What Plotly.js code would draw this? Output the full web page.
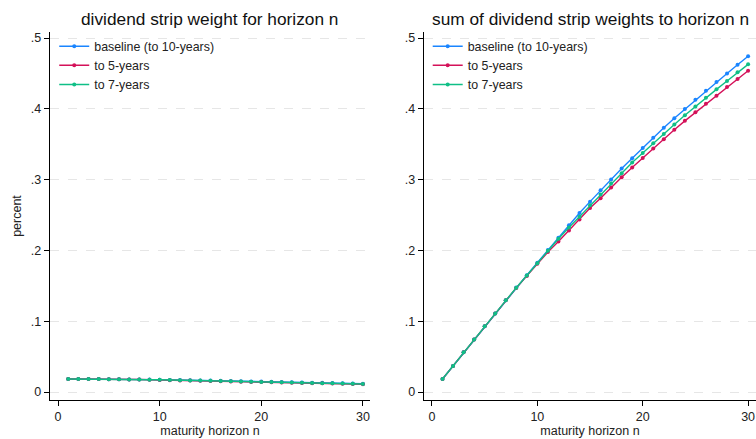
<!DOCTYPE html>
<html>
<head>
<meta charset="utf-8">
<script src="https://cdn.plot.ly/plotly-3.0.1.min.js"></script>
<style>html,body{margin:0;padding:0;background:#fff;}#chart{width:756px;height:439px;}</style>
</head>
<body>
<div id="chart"></div>
<script>
const horizon = [1,2,3,4,5,6,7,8,9,10,11,12,13,14,15,16,17,18,19,20,21,22,23,24,25,26,27,28,29,30];

const seriesNames = ["baseline (to 10-years)", "to 5-years", "to 7-years"];
const seriesColors = ["#1a85ff", "#d41159", "#0fbf86"];

// left panel: dividend strip weight for horizon n
const weightBaseline = [0.0184,0.0184,0.0183,0.0182,0.0181,0.0180,0.0178,0.0177,0.0175,0.0173,0.0171,0.0169,0.0166,0.0164,0.0161,0.0159,0.0156,0.0153,0.0150,0.0147,0.0144,0.0141,0.0138,0.0135,0.0132,0.0129,0.0126,0.0123,0.0120,0.0117];
const weight5y = [0.0184,0.0184,0.0183,0.0182,0.0181,0.0180,0.0178,0.0176,0.0173,0.0170,0.0167,0.0164,0.0161,0.0158,0.0155,0.0152,0.0149,0.0146,0.0143,0.0140,0.0137,0.0134,0.0131,0.0128,0.0125,0.0122,0.0119,0.0116,0.0113,0.0110];
const weight7y = [0.0184,0.0184,0.0183,0.0182,0.0181,0.0180,0.0178,0.0177,0.0174,0.0172,0.0169,0.0167,0.0164,0.0161,0.0158,0.0155,0.0152,0.0149,0.0146,0.0143,0.0140,0.0137,0.0134,0.0131,0.0128,0.0125,0.0122,0.0119,0.0116,0.0113];

// right panel: sum of dividend strip weights to horizon n
const sumBaseline = [0.0184,0.0368,0.0560,0.0740,0.0929,0.1108,0.1297,0.1476,0.1650,0.1826,0.2004,0.2180,0.2355,0.2528,0.2689,0.2849,0.3001,0.3156,0.3302,0.3448,0.3590,0.3731,0.3868,0.3996,0.4127,0.4255,0.4378,0.4500,0.4623,0.4742];
const sum5y = [0.0184,0.0368,0.0560,0.0740,0.0929,0.1108,0.1295,0.1470,0.1640,0.1812,0.1976,0.2127,0.2282,0.2437,0.2599,0.2736,0.2887,0.3033,0.3170,0.3306,0.3440,0.3571,0.3703,0.3830,0.3950,0.4070,0.4184,0.4307,0.4420,0.4538];
const sum7y = [0.0184,0.0368,0.0560,0.0740,0.0929,0.1108,0.1296,0.1473,0.1645,0.1820,0.1995,0.2165,0.2325,0.2477,0.2637,0.2788,0.2944,0.3090,0.3241,0.3377,0.3514,0.3646,0.3779,0.3910,0.4034,0.4156,0.4275,0.4392,0.4515,0.4628];

const yTickVals = [0, 0.1, 0.2, 0.3, 0.4, 0.5];
const yTickText = ["0", ".1", ".2", ".3", ".4", ".5"];
const xTickVals = [0, 10, 20, 30];

const leftTitle = "dividend strip weight for horizon n";
const rightTitle = "sum of dividend strip weights to horizon n";
const xTitle = "maturity horizon n";
const yTitle = "percent";

const FONT = "Liberation Sans, Arial, Helvetica, sans-serif";

const leftData = [weightBaseline, weight5y, weight7y];
const rightData = [sumBaseline, sum5y, sum7y];

const traces = [];
leftData.forEach((ys, i) => {
  traces.push({
    x: horizon, y: ys, type: "scatter", mode: "lines+markers",
    name: seriesNames[i], xaxis: "x", yaxis: "y", legend: "legend",
    line: {color: seriesColors[i], width: 1.4},
    marker: {color: seriesColors[i], size: 4}
  });
});
rightData.forEach((ys, i) => {
  traces.push({
    x: horizon, y: ys, type: "scatter", mode: "lines+markers",
    name: seriesNames[i], xaxis: "x2", yaxis: "y2", legend: "legend2",
    line: {color: seriesColors[i], width: 1.4},
    marker: {color: seriesColors[i], size: 4}
  });
});

function yAxis(extra) {
  return Object.assign({
    range: [-0.0113, 0.5085],
    tickvals: yTickVals, ticktext: yTickText,
    ticks: "outside", ticklen: 5, tickcolor: "#000", tickwidth: 1,
    showline: true, linecolor: "#000", linewidth: 1.2,
    showgrid: true, gridcolor: "#e6e6e6", griddash: "dash", gridwidth: 1,
    zeroline: false,
    tickfont: {family: FONT, size: 12.5, color: "#222"}
  }, extra);
}
function xAxis(extra) {
  return Object.assign({
    tickvals: xTickVals,
    ticks: "outside", ticklen: 5, tickcolor: "#000", tickwidth: 1,
    showline: true, linecolor: "#000", linewidth: 1.2,
    showgrid: false, zeroline: false,
    tickfont: {family: FONT, size: 12.5, color: "#222"},
    title: {text: xTitle, font: {family: FONT, size: 12.5, color: "#222"}, standoff: 1}
  }, extra);
}

const layout = {
  width: 756, height: 439,
  margin: {l: 50, r: 0, t: 32, b: 39},
  paper_bgcolor: "#fff", plot_bgcolor: "#fff",
  font: {family: FONT, color: "#222"},
  xaxis: xAxis({domain: [0, 0.4533], range: [-0.79, 30.7], anchor: "y"}),
  yaxis: yAxis({domain: [0, 1], anchor: "x",
    title: {text: yTitle, font: {family: FONT, size: 12.5, color: "#222"}, standoff: 6}}),
  xaxis2: xAxis({domain: [0.5297, 1], range: [-0.76, 30.75], anchor: "y2"}),
  yaxis2: yAxis({domain: [0, 1], anchor: "x2"}),
  legend: {x: 0.006, y: 1.001, xanchor: "left", yanchor: "top",
    bgcolor: "rgba(0,0,0,0)", font: {family: FONT, size: 12.4, color: "#222"},
    tracegroupgap: 0},
  legend2: {x: 0.535, y: 1.001, xanchor: "left", yanchor: "top",
    bgcolor: "rgba(0,0,0,0)", font: {family: FONT, size: 12.4, color: "#222"},
    tracegroupgap: 0},
  annotations: [
    {text: leftTitle, xref: "paper", yref: "paper", x: 0.2266, y: 1, yshift: 13,
     xanchor: "center", yanchor: "middle", showarrow: false,
     font: {family: FONT, size: 17.3, color: "#111"}},
    {text: rightTitle, xref: "paper", yref: "paper", x: 0.766, y: 1, yshift: 13,
     xanchor: "center", yanchor: "middle", showarrow: false,
     font: {family: FONT, size: 17.3, color: "#111"}}
  ]
};

Plotly.newPlot("chart", traces, layout, {displayModeBar: false, staticPlot: true});
</script>
</body>
</html>
